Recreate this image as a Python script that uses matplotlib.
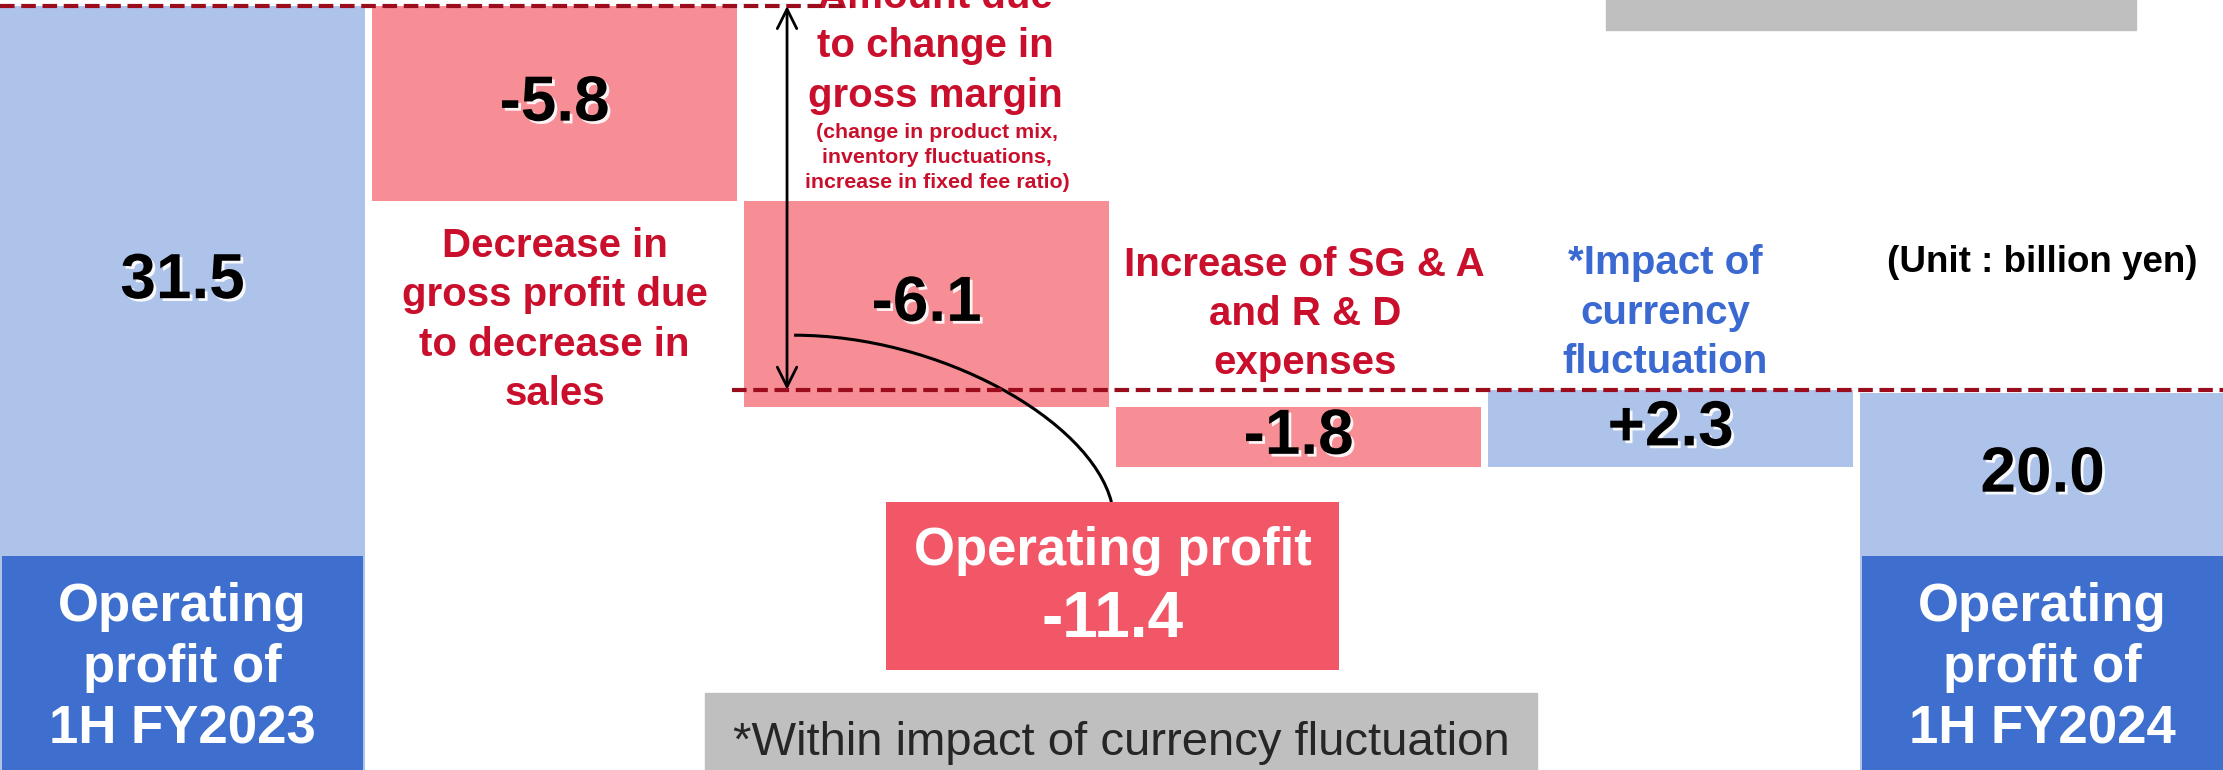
import matplotlib
matplotlib.use("Agg")
import matplotlib.pyplot as plt
import matplotlib.patheffects as pe
from matplotlib.patches import Rectangle, PathPatch
from matplotlib.path import Path

plt.rcParams['font.family'] = ['Liberation Sans', 'DejaVu Sans']

# data (billion yen)
start_value = 31.5
end_value = 20.0
step_values = [-5.8, -6.1, -1.8, 2.3]
step_labels = ['-5.8', '-6.1', '-1.8', '+2.3']
start_label = 'Operating\nprofit of\n1H FY2023'
end_label = 'Operating\nprofit of\n1H FY2024'
op_change = -11.4

step_notes = [
    'Decrease in\ngross profit due\nto decrease in\nsales',
    'Amount due\nto change in\ngross margin',
    'Increase of SG & A\nand R & D\nexpenses',
    '*Impact of\ncurrency\nfluctuation',
]

light_blue = '#aec3ea'
dark_blue = '#3f6fce'
pink = '#f78e96'
strong_red = '#f25767'
red_text = '#c90f2c'
blue_text = '#3a69d1'
dash_red = '#9b0d1c'
gray = '#bfbfbf'

fig = plt.figure(figsize=(22.23, 7.70), dpi=100)
ax = fig.add_axes([0, 0, 1, 1])
ax.set_xlim(-0.4906, 5.485)
ax.set_ylim(8.80, 31.68)
ax.axis('off')

w = 0.98
box_top = 15.15
shadow = [pe.withSimplePatchShadow(offset=(2, -2), shadow_rgbFace='white', alpha=0.9)]

# start / end totals
for x, v, lab in [(0, start_value, start_label), (5, end_value, end_label)]:
    ax.bar(x, v, width=w, color=light_blue, zorder=1)
    ax.bar(x, box_top, width=w * 0.99, color=dark_blue, zorder=2)
    ax.text(x, (v + box_top) / 2, f'{v:.1f}', ha='center', va='center',
            fontsize=46, fontweight='bold', color='black', path_effects=shadow, zorder=5)
    ax.text(x, (box_top + 8.80) / 2 - 0.15, lab, ha='center', va='center', fontsize=38,
            fontweight='bold', color='white', linespacing=1.29, zorder=5)

# steps
cum = start_value
for i, (d, lab) in enumerate(zip(step_values, step_labels)):
    x = i + 1
    bottom = cum + min(d, 0)
    ax.bar(x, abs(d), bottom=bottom, width=w, color=pink if d < 0 else light_blue, zorder=1)
    ax.text(x, bottom + abs(d) / 2, lab, ha='center', va='center', fontsize=46,
            fontweight='bold', color='black', path_effects=shadow, zorder=5)
    cum += d
final_level = cum

# reference dashed lines
ax.plot([-0.49, 1.80], [start_value, start_value], color=dash_red, lw=3,
        dashes=(3.5, 1.6), zorder=4)
ax.plot([1.477, 5.49], [final_level, final_level], color=dash_red, lw=3,
        dashes=(3.5, 1.6), zorder=4)

# double arrow for gross margin amount
ax.annotate('', xy=(1.625, final_level), xytext=(1.625, start_value),
            arrowprops=dict(arrowstyle='<->', lw=2, color='black', mutation_scale=35,
                            shrinkA=0, shrinkB=0), zorder=6)

# notes
ax.text(1, 22.17, step_notes[0], ha='center', va='center', fontsize=29,
        fontweight='bold', color=red_text, linespacing=1.38)
ax.text(2.023, 30.30, step_notes[1], ha='center', va='center', fontsize=29,
        fontweight='bold', color=red_text, linespacing=1.38)
ax.text(2.028, 27.0, '(change in product mix,\ninventory fluctuations,\nincrease in fixed fee ratio)',
        ha='center', va='center', fontsize=15.4, fontweight='bold', color=red_text,
        linespacing=1.38)
ax.text(3.017, 22.35, step_notes[2], ha='center', va='center', fontsize=29,
        fontweight='bold', color=red_text, linespacing=1.38)
ax.text(3.985, 22.39, step_notes[3], ha='center', va='center', fontsize=29,
        fontweight='bold', color=blue_text, linespacing=1.38)
ax.text(5.0, 23.89, '(Unit : billion yen)', ha='center', va='center', fontsize=26.5,
        fontweight='bold', color='black')

# operating profit change box
ax.bar(2.5, 16.76 - 11.77, bottom=11.77, width=1.217, color=strong_red, zorder=3)
ax.text(2.5, 15.30, 'Operating profit', ha='center', va='center', fontsize=38,
        fontweight='bold', color='white', zorder=5)
ax.text(2.5, 13.25, f'{op_change:.1f}', ha='center', va='center', fontsize=46,
        fontweight='bold', color='white', zorder=5)

# connector curve from the -6.1 bar to the box
verts = [(1.644, 21.72), (2.036, 21.72), (2.440, 19.20), (2.497, 16.76)]
curve = Path(verts, [Path.MOVETO, Path.CURVE4, Path.CURVE4, Path.CURVE4])
ax.add_patch(PathPatch(curve, facecolor='none', edgecolor='black', lw=2.2, zorder=2))

# gray boxes
ax.add_patch(Rectangle((3.826, 30.79), 5.251 - 3.826, 2.0, color=gray, zorder=1))
ax.add_patch(Rectangle((1.405, 7.0), 3.641 - 1.405, 11.08 - 7.0, color=gray, zorder=1))
ax.text(2.523, 9.24, '*Within impact of currency fluctuation', ha='center', va='baseline',
        fontsize=34, color='#262626', zorder=5)

fig.savefig('out.png', dpi=100)
